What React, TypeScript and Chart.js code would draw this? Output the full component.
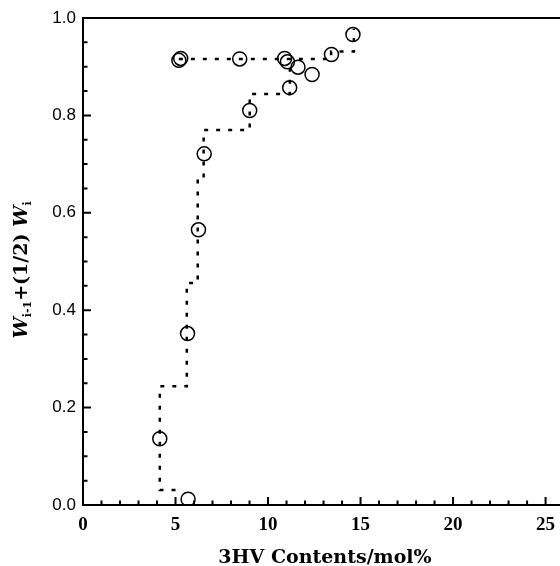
import React, { useEffect, useRef } from "react";
import { Chart, registerables } from "chart.js";

Chart.register(...registerables);

// Measured points (3HV content, W_{i-1} + (1/2) W_i)
const pointX = [4.15, 5.68, 5.65, 6.24, 6.55, 9.01, 11.17, 5.18, 5.28, 8.47, 10.9, 11.05, 11.62, 12.38, 13.43, 14.59];
const pointY = [0.136, 0.012, 0.352, 0.565, 0.721, 0.81, 0.857, 0.913, 0.917, 0.916, 0.917, 0.91, 0.899, 0.884, 0.925, 0.966];

// Dotted step curve, lower part
const stepAX = [5.0, 4.15, 4.15, 5.61, 5.61, 6.2, 6.2, 6.52, 6.52, 9.01, 9.01, 11.18, 11.18];
const stepAY = [0.031, 0.031, 0.244, 0.244, 0.456, 0.456, 0.67, 0.67, 0.77, 0.77, 0.844, 0.844, 0.915];
// Dotted step curve, upper part
const stepBX = [5.18, 13.41, 13.41, 14.64, 14.64];
const stepBY = [0.916, 0.916, 0.931, 0.931, 0.978];

const xMajor = [0, 5, 10, 15, 20, 25];
const xMinor = [1, 2, 3, 4, 6, 7, 8, 9, 11, 12, 13, 14, 16, 17, 18, 19, 21, 22, 23, 24];
const yMajor = [0, 0.2, 0.4, 0.6, 0.8, 1.0];
const yMinor = [0.05, 0.1, 0.15, 0.25, 0.3, 0.35, 0.45, 0.5, 0.55, 0.65, 0.7, 0.75, 0.85, 0.9, 0.95];

const xTitle = "3HV Contents/mol%";
const X_MIN = 0;
const X_MAX = 25.78;

const framePlugin = {
  id: "framePlugin",
  afterDraw(chart: any) {
    const { ctx, chartArea } = chart;
    const xs = chart.scales.x;
    const ys = chart.scales.y;
    const { left, right, top, bottom } = chartArea;
    ctx.save();
    ctx.strokeStyle = "#000";
    ctx.lineWidth = 2;
    ctx.beginPath();
    ctx.moveTo(right, top);
    ctx.lineTo(left, top);
    ctx.lineTo(left, bottom);
    ctx.lineTo(right, bottom);
    ctx.stroke();
    ctx.lineWidth = 2;
    ctx.beginPath();
    xMajor.forEach((v) => {
      const p = xs.getPixelForValue(v);
      ctx.moveTo(p, bottom);
      ctx.lineTo(p, bottom - 8);
    });
    xMinor.forEach((v) => {
      const p = xs.getPixelForValue(v);
      ctx.moveTo(p, bottom);
      ctx.lineTo(p, bottom - 4.5);
    });
    yMajor.forEach((v) => {
      const p = ys.getPixelForValue(v);
      ctx.moveTo(left, p);
      ctx.lineTo(left + 8, p);
    });
    yMinor.forEach((v) => {
      const p = ys.getPixelForValue(v);
      ctx.moveTo(left, p);
      ctx.lineTo(left + 4.5, p);
    });
    ctx.stroke();

    // x title
    ctx.fillStyle = "#000";
    ctx.font = "bold 19px 'DejaVu Serif'";
    ctx.textAlign = "center";
    ctx.textBaseline = "alphabetic";
    ctx.fillText(xTitle, 325, 563);

    // y title with subscripts
    const segs = [
      { t: "W", f: "italic bold 19px 'DejaVu Serif'", dy: 0 },
      { t: "i-1", f: "bold 11px 'DejaVu Serif'", dy: 4 },
      { t: "+(1/2) ", f: "bold 19px 'DejaVu Serif'", dy: 0 },
      { t: "W", f: "italic bold 19px 'DejaVu Serif'", dy: 0 },
      { t: "i", f: "bold 11px 'DejaVu Serif'", dy: 4 },
    ];
    let total = 0;
    const widths = segs.map((s) => {
      ctx.font = s.f;
      const w = ctx.measureText(s.t).width;
      total += w;
      return w;
    });
    ctx.translate(27, 270);
    ctx.rotate(-Math.PI / 2);
    ctx.textAlign = "left";
    let cx = -total / 2;
    segs.forEach((s, i) => {
      ctx.font = s.f;
      ctx.fillText(s.t, cx, s.dy);
      cx += widths[i];
    });
    ctx.restore();
  },
};

export default function App() {
  const ref = useRef<HTMLCanvasElement | null>(null);
  useEffect(() => {
    if (!ref.current) return;
    const lineStyle = {
      type: "line" as const,
      borderColor: "#000",
      borderWidth: 2.5,
      borderDash: [4, 8],
      pointRadius: 0,
      fill: false,
      tension: 0,
      order: 2,
    };
    const chart = new Chart(ref.current, {
      type: "scatter",
      data: {
        datasets: [
          {
            ...lineStyle,
            data: stepAX.map((x, i) => ({ x, y: stepAY[i] })),
          } as any,
          {
            ...lineStyle,
            data: stepBX.map((x, i) => ({ x, y: stepBY[i] })),
          } as any,
          {
            type: "scatter",
            data: pointX.map((x, i) => ({ x, y: pointY[i] })),
            pointStyle: "circle",
            pointRadius: 7,
            borderWidth: 1.5,
            borderColor: "#000",
            backgroundColor: "rgba(0,0,0,0)",
            order: 1,
          } as any,
        ],
      },
      options: {
        animation: false,
        responsive: false,
        maintainAspectRatio: false,
        layout: { autoPadding: false, padding: { top: 18, left: 0, right: 0, bottom: 0 } },
        plugins: {
          legend: { display: false },
          tooltip: { enabled: false },
          title: { display: false },
        },
        scales: {
          x: {
            type: "linear",
            min: X_MIN,
            max: X_MAX,
            grid: { display: false, drawTicks: false },
            border: { display: false },
            afterBuildTicks: (s: any) => {
              s.ticks = xMajor.map((v) => ({ value: v }));
            },
            afterFit: (s: any) => {
              s.height = 61;
              s.paddingLeft = 0;
              s.paddingRight = 0;
            },
            ticks: {
              color: "#000",
              padding: 9,
              maxRotation: 0,
              font: { family: "'Liberation Serif'", weight: "bold", size: 19 },
              callback: (v: any) => String(v),
            },
          },
          y: {
            type: "linear",
            min: 0,
            max: 1,
            grid: { display: false, drawTicks: false },
            border: { display: false },
            afterBuildTicks: (s: any) => {
              s.ticks = yMajor.map((v) => ({ value: v }));
            },
            afterFit: (s: any) => {
              s.width = 83;
              s.paddingTop = 0;
              s.paddingBottom = 0;
            },
            ticks: {
              color: "#000",
              padding: 7,
              font: { family: "'Liberation Sans'", size: 17 },
              callback: (v: any) => Number(v).toFixed(1),
            },
          },
        },
      },
      plugins: [framePlugin],
    });
    return () => chart.destroy();
  }, []);
  return (
    <div style={{ position: "absolute", left: 0, top: 0, width: 560, height: 566, background: "#fff" }}>
      <canvas ref={ref} width={560} height={566} style={{ display: "block" }} />
    </div>
  );
}
